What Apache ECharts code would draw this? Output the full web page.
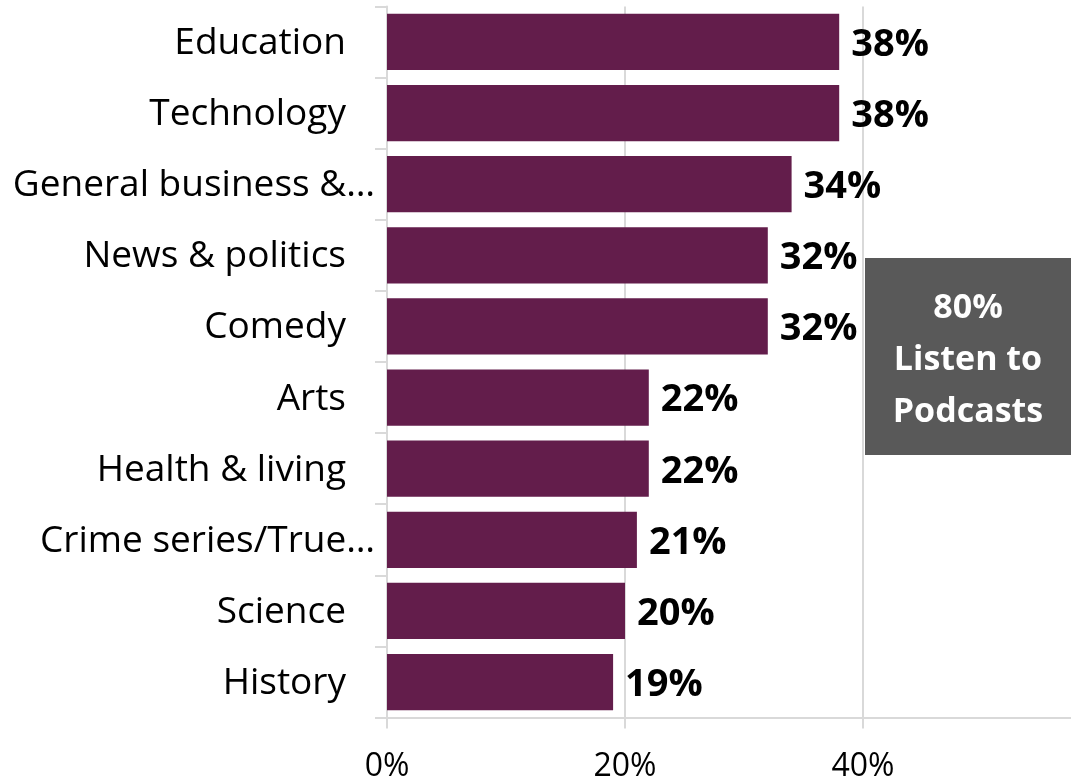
<!DOCTYPE html>
<html><head><meta charset="utf-8">
<script src="https://cdn.jsdelivr.net/npm/echarts@6/dist/echarts.min.js"></script>
<style>html,body{margin:0;padding:0;background:#fff}#c{width:1071px;height:781px}</style>
</head><body><div id="c"></div>
<script>
const categories = ['Education','Technology','General business &…','News & politics','Comedy','Arts','Health & living','Crime series/True…','Science','History'];
const values = [38,38,34,32,32,22,22,21,20,19];
const truncated = [false,false,true,false,false,false,false,true,false,false];
const calloutLines = ['80%','Listen to','Podcasts'];

const FONT = 'Open Sans';
const chart = echarts.init(document.getElementById('c'), null, {renderer:'canvas'});
chart.setOption({
  animation:false,
  grid:{left:387, top:6.4, width:714, height:711.2, containLabel:false, outerBoundsMode:'none'},
  xAxis:{type:'value', min:0, max:60, interval:20,
    axisLine:{show:true, lineStyle:{color:'#d9d9d9', width:2}},
    axisTick:{show:true, length:11, lineStyle:{color:'#d9d9d9', width:2}},
    splitLine:{show:true, lineStyle:{color:'#d9d9d9', width:2}},
    axisLabel:{formatter:'{value}%', fontFamily:FONT, fontSize:32, color:'#000', margin:33}
  },
  yAxis:{type:'category', inverse:true, data:categories,
    axisLine:{show:true, lineStyle:{color:'#d9d9d9', width:2}},
    axisTick:{show:true, length:12, lineStyle:{color:'#d9d9d9', width:2}},
    axisLabel:{fontFamily:FONT, fontSize:37, color:'#000', margin:12,
      formatter:(v,i)=> truncated[i] ? '{t|'+v+'}' : '{n|'+v+'}',
      rich:{t:{fontFamily:FONT, fontSize:37, color:'#000', padding:[3,0,0,0]}, n:{fontFamily:FONT, fontSize:37, color:'#000', padding:[3,29,0,0]}}
    }
  },
  series:[{type:'bar', data:values, barCategoryGap:'21%',
    itemStyle:{color:'#631d4b'},
    label:{show:true, position:'right', distance:12, formatter:'{c}%', fontFamily:FONT, fontWeight:'bold', fontSize:38, color:'#000', offset:[0,3]}
  }],
  graphic:[{type:'group', left:865, top:258, z:100, children:[
    {type:'rect', z:100, shape:{x:0,y:0,width:206,height:197}, style:{fill:'#595959'}},
    {type:'text', z:101, style:{x:103, y:50, text:calloutLines[0], fill:'#fff', font:'bold 34px '+FONT, textAlign:'center', textVerticalAlign:'middle'}},
    {type:'text', z:101, style:{x:103, y:102, text:calloutLines[1], fill:'#fff', font:'bold 34px '+FONT, textAlign:'center', textVerticalAlign:'middle'}},
    {type:'text', z:101, style:{x:103, y:154, text:calloutLines[2], fill:'#fff', font:'bold 34px '+FONT, textAlign:'center', textVerticalAlign:'middle'}}
  ]}]
});
</script></body></html>
